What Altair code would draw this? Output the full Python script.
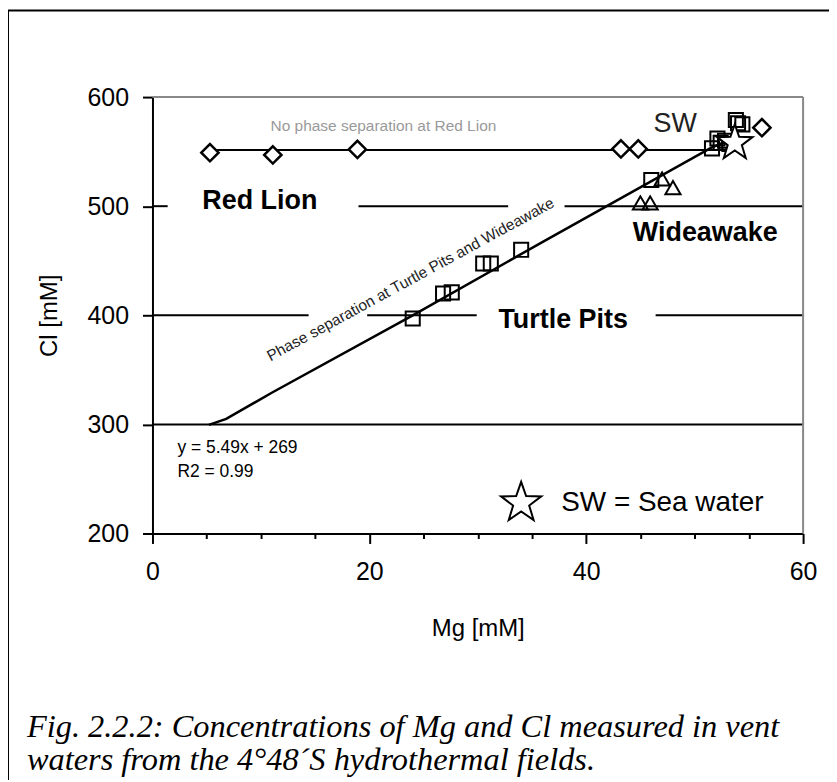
import altair as alt
import pandas as pd

# ---------------- data ----------------
# Turtle Pits (open squares)
tp_mg = [24.0, 26.8, 27.6, 30.5, 31.2, 34.0, 46.0, 51.6, 52.1, 52.4, 52.8, 53.2, 53.8, 54.0, 54.4]
tp_cl = [397, 420, 421, 447.5, 447.5, 460, 524, 553, 562, 558, 560, 557, 579, 576, 575]
# Wideawake (open triangles)
wa_mg = [45.0, 45.9, 47.0, 48.0]
wa_cl = [503, 503, 525, 517]
# Red Lion (diamonds)
rl_mg = [5.3, 11.1, 18.9, 43.2, 44.8, 56.2]
rl_cl = [549, 547, 552, 552.5, 552.5, 572]
# Sea water (star)
sw_mg = [53.7]
sw_cl = [558]
# Regression line (Turtle Pits + Wideawake): y = 5.49x + 269
fit_mg = [5.2, 6.8, 11.0, 24.0, 36.2, 51.5, 53.5]
fit_cl = [299.5, 305, 329, 400, 468.5, 553.5, 562]
# No-phase-separation line at Red Lion
rlline_mg = [5.3, 52.0]
rlline_cl = [551.6, 551.6]
# horizontal grid segments (interrupted by labels)
grid_cl = [500, 500, 500, 400, 400, 400, 300]
grid_from = [0, 19.0, 38.0, 0, 19.8, 46.4, 0]
grid_to = [1.4, 32.8, 60, 14.4, 29.9, 60, 60]

# annotations
bold_text = ["Red Lion", "Turtle Pits", "Wideawake"]
bold_mg = [4.6, 31.9, 44.3]
bold_cl = [505, 395.5, 475]

eq_text = ["y = 5.49x + 269", "R2 = 0.99"]
eq_mg = [2.3, 2.3]
eq_cl = [278.5, 256.6]

legend_star_mg = [34.0]
legend_star_cl = [228]
legend_text = ["SW = Sea water"]
legend_text_mg = [37.7]
legend_text_cl = [228]

caption = ["Fig. 2.2.2: Concentrations of Mg and Cl measured in vent",
           "waters from the 4\u00b048\u00b4S hydrothermal fields."]

x_ticks = list(range(0, 61, 5))
y_ticks = [200, 300, 400, 500, 600]

# ---------------- helpers ----------------
FONT = "Liberation Sans"
xs = alt.Scale(domain=[0, 60], nice=False, zero=False)
ys = alt.Scale(domain=[200, 600], nice=False, zero=False)
x_axis = alt.Axis(values=x_ticks, title="Mg [mM]",
                  labelExpr="datum.value % 20 === 0 ? datum.label : ''",
                  tickSize={"condition": {"test": "datum.value % 20 === 0", "value": 10}, "value": 5},
                  labelOverlap=False, labelFlush=False, labelBound=False,
                  labelPadding=16, titlePadding=32)
y_axis = alt.Axis(values=y_ticks, title="Cl [mM]", tickSize=10,
                  labelPadding=14, titlePadding=26)


def X(f):
    return alt.X(f, type="quantitative", scale=xs, axis=x_axis)


def Y(f):
    return alt.Y(f, type="quantitative", scale=ys, axis=y_axis)


star_path = ("M0,-1L0.235,-0.324L0.951,-0.309L0.38,0.124L0.588,0.809"
             "L0,0.4L-0.588,0.809L-0.38,0.124L-0.951,-0.309L-0.235,-0.324Z")

grid_df = pd.DataFrame({"cl": grid_cl, "x1": grid_from, "x2": grid_to})
grid = alt.Chart(grid_df).mark_rule(color="black", strokeWidth=2).encode(
    x=X("x1"), x2="x2", y=Y("cl"))

rlline = alt.Chart(pd.DataFrame({"mg": rlline_mg, "cl": rlline_cl})).mark_line(
    color="black", strokeWidth=2).encode(x=X("mg"), y=Y("cl"))

fit = alt.Chart(pd.DataFrame({"mg": fit_mg, "cl": fit_cl})).mark_line(
    color="black", strokeWidth=2.5).encode(x=X("mg"), y=Y("cl"))

squares = alt.Chart(pd.DataFrame({"mg": tp_mg, "cl": tp_cl})).mark_point(
    shape="square", size=200, filled=False, stroke="black", strokeWidth=2, opacity=1).encode(
    x=X("mg"), y=Y("cl"))

triangles = alt.Chart(pd.DataFrame({"mg": wa_mg, "cl": wa_cl})).mark_point(
    shape="triangle-up", size=230, filled=False, stroke="black", strokeWidth=2, opacity=1).encode(
    x=X("mg"), y=Y("cl"))

diamonds = alt.Chart(pd.DataFrame({"mg": rl_mg, "cl": rl_cl})).mark_point(
    shape="diamond", size=300, filled=True, fill="white", stroke="black",
    strokeWidth=2.5, opacity=1).encode(x=X("mg"), y=Y("cl"))

star = alt.Chart(pd.DataFrame({"mg": sw_mg, "cl": sw_cl})).mark_point(
    shape=star_path, size=1400, filled=True, fill="white", stroke="black",
    strokeWidth=2, opacity=1).encode(x=X("mg"), y=Y("cl"))

legend_star = alt.Chart(pd.DataFrame({"mg": legend_star_mg, "cl": legend_star_cl})).mark_point(
    shape=star_path, size=1800, filled=True, fill="white", stroke="black",
    strokeWidth=2, opacity=1).encode(x=X("mg"), y=Y("cl"))

legend_lbl = alt.Chart(pd.DataFrame({"mg": legend_text_mg, "cl": legend_text_cl, "t": legend_text})).mark_text(
    align="left", baseline="middle", font=FONT, fontSize=28, color="black").encode(
    x=X("mg"), y=Y("cl"), text="t:N")

bold_lbl = alt.Chart(pd.DataFrame({"mg": bold_mg, "cl": bold_cl, "t": bold_text})).mark_text(
    align="left", baseline="middle", font=FONT, fontSize=27, fontWeight="bold", color="black").encode(
    x=X("mg"), y=Y("cl"), text="t:N")

eq_lbl = alt.Chart(pd.DataFrame({"mg": eq_mg, "cl": eq_cl, "t": eq_text})).mark_text(
    align="left", baseline="middle", font=FONT, fontSize=17.5, color="black").encode(
    x=X("mg"), y=Y("cl"), text="t:N")

nophase = alt.Chart(pd.DataFrame({"mg": [21.3], "cl": [573.5], "t": ["No phase separation  at Red Lion"]})).mark_text(
    align="center", baseline="middle", font=FONT, fontSize=15.5, color="#999999").encode(
    x=X("mg"), y=Y("cl"), text="t:N")

phase = alt.Chart(pd.DataFrame({"mg": [23.8], "cl": [432.9], "t": ["Phase separation  at Turtle Pits and Wideawake"]})).mark_text(
    align="center", baseline="middle", font=FONT, fontSize=15.5, color="#222222", angle=331.4).encode(
    x=X("mg"), y=Y("cl"), text="t:N")

sw_lbl = alt.Chart(pd.DataFrame({"mg": [48.2], "cl": [575], "t": ["SW"]})).mark_text(
    align="center", baseline="middle", font=FONT, fontSize=27, color="#222222").encode(
    x=X("mg"), y=Y("cl"), text="t:N")

dummy = pd.DataFrame({"a": [0]})
top_border = alt.Chart(dummy).mark_rule(color="#888888", strokeWidth=2).encode(
    x=alt.value(0), x2=alt.value(653), y=alt.value(0))
right_border = alt.Chart(dummy).mark_rule(color="#888888", strokeWidth=2).encode(
    x=alt.value(653), y=alt.value(0), y2=alt.value(438))
frame_top = alt.Chart(dummy).mark_rule(color="black", strokeWidth=2).encode(
    x=alt.value(-145), x2=alt.value(679), y=alt.value(-87))
frame_left = alt.Chart(dummy).mark_rule(color="black", strokeWidth=2).encode(
    x=alt.value(-145), y=alt.value(-87), y2=alt.value(690))

cap1 = alt.Chart(dummy).mark_text(
    align="left", baseline="alphabetic", font="Liberation Serif", fontStyle="italic",
    fontSize=32.5, color="black").encode(x=alt.value(-126), y=alt.value(642), text=alt.value(caption[0]))
cap2 = alt.Chart(dummy).mark_text(
    align="left", baseline="alphabetic", font="Liberation Serif", fontStyle="italic",
    fontSize=32.5, color="black").encode(x=alt.value(-126), y=alt.value(675), text=alt.value(caption[1]))

chart = alt.layer(
    grid, rlline, fit, nophase, phase, sw_lbl, bold_lbl, eq_lbl,
    squares, triangles, diamonds, star, legend_star, legend_lbl,
    top_border, right_border, frame_top, frame_left, cap1, cap2,
).properties(
    width=653, height=438,
    padding={"left": 145, "top": 88, "right": 26, "bottom": 246},
    autosize=alt.AutoSizeParams(type="none"),
).configure_view(strokeWidth=0).configure_axis(
    domainColor="black", domainWidth=2, tickColor="black", tickWidth=2,
    labelFont=FONT, labelFontSize=25, labelColor="black",
    titleFont=FONT, titleFontSize=24, titleFontWeight="normal", titleColor="black",
    grid=False,
)

chart.save("out.html", embed_options={"renderer": "svg", "actions": False})
